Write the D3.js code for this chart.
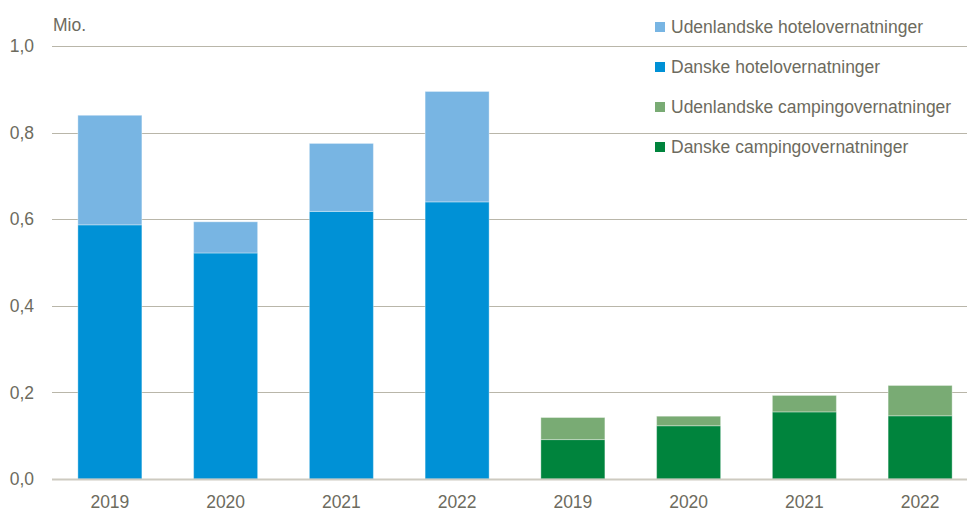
<!DOCTYPE html>
<html><head><meta charset="utf-8">
<script src="https://cdn.jsdelivr.net/npm/d3@7"></script>
<style>body{margin:0;background:#fff}svg{display:block}text{font-family:"Liberation Sans",Arial,sans-serif;fill:#6d6b5e}</style>
</head><body><div id="chart"></div>
<script>
const categories = ["2019","2020","2021","2022","2019","2020","2021","2022"];
const groups = ["hotel","hotel","hotel","hotel","camping","camping","camping","camping"];
const danske = [0.587, 0.522, 0.618, 0.640, 0.091, 0.123, 0.155, 0.146];
const udenlandske = [0.253, 0.072, 0.157, 0.255, 0.051, 0.022, 0.038, 0.070];
const yTicks = [0, 0.2, 0.4, 0.6, 0.8, 1.0];
const legendLabels = ["Udenlandske hotelovernatninger","Danske hotelovernatninger","Udenlandske campingovernatninger","Danske campingovernatninger"];

const colors = {hotel:{d:"#0091d6",u:"#78b5e3"}, camping:{d:"#00843d",u:"#79ab74"}};
const legendColors = ["#78b5e3","#0091d6","#79ab74","#00843d"];

const W = 967, H = 513;
const svg = d3.select("#chart").append("svg").attr("width",W).attr("height",H);
const x = d3.scaleBand().domain(d3.range(categories.length)).range([52, 978]).paddingInner(0.447).paddingOuter(0.2235);
const y = d3.scaleLinear().domain([0,1]).range([479, 46]);
const fmt = d => d.toFixed(1).replace(".", ",");

// gridlines
svg.append("g").selectAll("line").data(yTicks.filter(t=>t>0)).join("line")
  .attr("x1",52).attr("x2",W).attr("y1",d=>Math.round(y(d))+0.5).attr("y2",d=>Math.round(y(d))+0.5)
  .attr("stroke","#b9b6a9").attr("stroke-width",1.2);

// y labels
svg.append("g").selectAll("text").data(yTicks).join("text")
  .attr("x",34).attr("y",d=>y(d)).attr("dy","0.35em").attr("text-anchor","end")
  .attr("font-size",17.5).text(fmt);
svg.append("text").attr("x",53).attr("y",31).attr("font-size",17.5).text("Mio.");

// bars
const data = categories.map((c,i)=>({i, c, g:groups[i], d:danske[i], u:udenlandske[i]}));
const bars = svg.append("g");
bars.selectAll("rect.d").data(data).join("rect").attr("class","d")
  .attr("x",d=>x(d.i)).attr("width",x.bandwidth())
  .attr("y",d=>y(d.d)).attr("height",d=>y(0)-y(d.d))
  .attr("fill",d=>colors[d.g].d).attr("stroke","#fff").attr("stroke-opacity",0.35).attr("stroke-width",1);
bars.selectAll("rect.u").data(data).join("rect").attr("class","u")
  .attr("x",d=>x(d.i)).attr("width",x.bandwidth())
  .attr("y",d=>y(d.d+d.u)).attr("height",d=>y(d.d)-y(d.d+d.u))
  .attr("fill",d=>colors[d.g].u).attr("stroke","#fff").attr("stroke-opacity",0.35).attr("stroke-width",1);

// baseline
svg.append("line").attr("x1",52).attr("x2",W).attr("y1",y(0)+0.5).attr("y2",y(0)+0.5)
  .attr("stroke","#cdcac0").attr("stroke-width",2);

// x labels
svg.append("g").selectAll("text").data(data).join("text")
  .attr("x",d=>x(d.i)+x.bandwidth()/2).attr("y",508).attr("text-anchor","middle")
  .attr("font-size",17.5).text(d=>d.c);

// legend
const lg = svg.append("g").selectAll("g").data(legendLabels).join("g")
  .attr("transform",(d,i)=>`translate(655,${27+i*40})`);
lg.append("rect").attr("x",0).attr("y",-5).attr("width",10).attr("height",10).attr("fill",(d,i)=>legendColors[i]);
lg.append("text").attr("x",16).attr("y",0).attr("dy","0.35em").attr("font-size",17.5).text(d=>d);
</script></body></html>
